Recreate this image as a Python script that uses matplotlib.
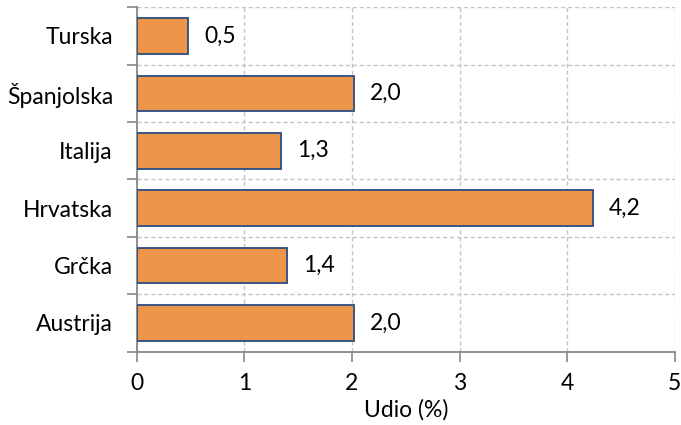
import matplotlib
matplotlib.use("Agg")
import matplotlib.pyplot as plt
import numpy as np

plt.rcParams['font.family'] = ['Lato', 'DejaVu Sans']

drzave = ['Austrija', 'Grčka', 'Hrvatska', 'Italija', 'Španjolska', 'Turska']
udio = [2.02, 1.40, 4.24, 1.34, 2.02, 0.48]
xticks = [0, 1, 2, 3, 4, 5]

fs = 16.5

fig = plt.figure(figsize=(6.81, 4.25), dpi=100)
ax = fig.add_axes([0.2006, 0.1725, 0.991 - 0.2006, 0.983 - 0.1725])

y = np.arange(len(drzave))
ax.barh(y, udio, height=0.62, color='#ED9549', edgecolor='#2B4C7E', linewidth=1.3, zorder=3)

# popisi vrijednosti uz stupce (decimalni zarez)
for yi, v in zip(y, udio):
    ax.text(v + 0.15, yi, f'{v:.1f}'.replace('.', ','), va='center', ha='left', fontsize=fs, color='black')

ax.set_xlim(0, 5)
ax.set_ylim(-0.5, len(drzave) - 0.5)
ax.set_xticks(xticks)
ax.set_xticklabels([str(t) for t in xticks], fontsize=fs)
ax.set_yticks(y)
ax.set_yticklabels(drzave, fontsize=fs)
ax.set_yticks(np.arange(-0.5, len(drzave), 1), minor=True)
ax.tick_params(axis='y', which='major', length=0, pad=17)
ax.tick_params(axis='y', which='minor', length=7, width=1.2, color='#888888')
ax.tick_params(axis='x', which='major', length=7, width=1.2, color='#888888', pad=8)

ax.grid(axis='x', which='major', linestyle=(0, (3, 2)), color='#C4C4C4', linewidth=1, zorder=0)
ax.grid(axis='y', which='minor', linestyle=(0, (3, 2)), color='#C4C4C4', linewidth=1, zorder=0)
ax.set_axisbelow(True)

for s in ['top', 'right']:
    ax.spines[s].set_visible(False)
for s in ['left', 'bottom']:
    ax.spines[s].set_color('#888888')
    ax.spines[s].set_linewidth(1.3)

ax.set_xlabel('Udio (%)', fontsize=fs, labelpad=4)

fig.savefig('out.png', dpi=100)
